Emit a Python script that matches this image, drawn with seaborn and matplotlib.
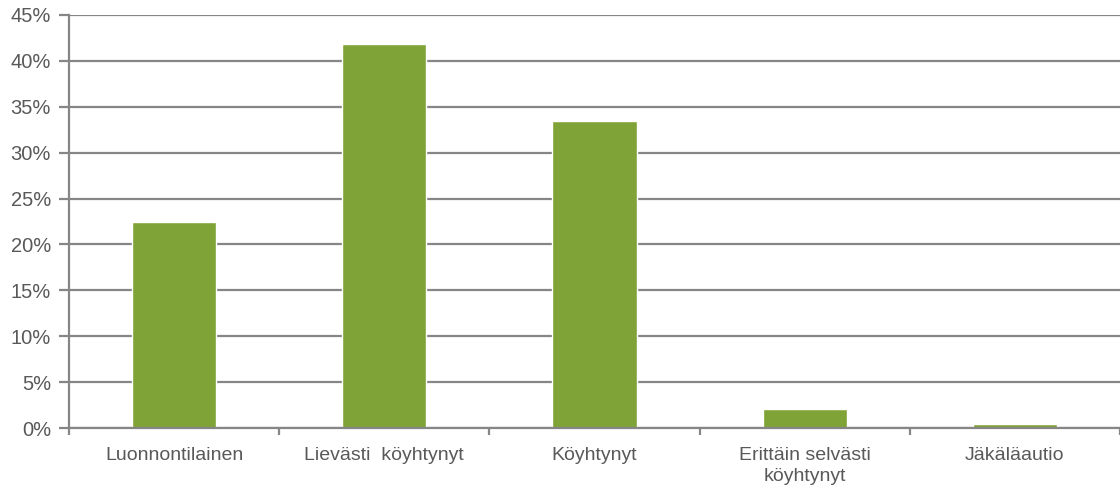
import matplotlib
matplotlib.use("Agg")
import matplotlib.pyplot as plt
import seaborn as sns
import pandas as pd
from matplotlib.ticker import FixedLocator, FuncFormatter

# Share of sites by condition class (%)
categories = ["Luonnontilainen", "Lievästi  köyhtynyt", "Köyhtynyt",
              "Erittäin selvästi\nköyhtynyt", "Jäkäläautio"]
shares = [22.4, 41.8, 33.5, 2.1, 0.4]
y_ticks = [0, 5, 10, 15, 20, 25, 30, 35, 40, 45]

sns.set_theme(style="white")
plt.rcParams["font.family"] = ["Liberation Sans", "DejaVu Sans"]

grey = "#868686"
text_grey = "#595959"
bar_color = "#80a337"

df = pd.DataFrame({"luokka": categories, "osuus": shares})

fig = plt.figure(figsize=(11.2, 4.9), dpi=100)
ax = fig.add_axes([0.0616, 0.1265, 0.9384, 0.8429])

sns.barplot(data=df, x="luokka", y="osuus", order=categories,
            color=bar_color, saturation=1, width=0.4, ax=ax)

ax.set_ylim(0, 45)
ax.set_xlim(-0.5, len(categories) - 0.5)
ax.yaxis.set_major_locator(FixedLocator(y_ticks))
ax.yaxis.set_major_formatter(FuncFormatter(lambda v, _: f"{v:.0f}%"))
ax.yaxis.grid(True, color=grey, linewidth=1.6)
ax.set_axisbelow(True)

for side in ["top", "right"]:
    ax.spines[side].set_visible(False)
ax.spines["left"].set_color(grey)
ax.spines["left"].set_linewidth(1.6)
ax.spines["bottom"].set_color(grey)
ax.spines["bottom"].set_linewidth(1.6)

# Category boundaries get the tick marks; labels sit at the bar centres
ax.set_xticks(range(len(categories)))
ax.set_xticklabels(categories, linespacing=1.25)
ax.set_xticks([i - 0.5 for i in range(len(categories) + 1)], minor=True)
ax.tick_params(axis="x", which="major", length=0, pad=14,
               labelsize=14, labelcolor=text_grey)
ax.tick_params(axis="x", which="minor", length=5, width=1.6,
               color=grey, direction="out", bottom=True)
ax.tick_params(axis="y", which="major", length=7, width=1.6, color=grey,
               direction="out", left=True, labelsize=14.5,
               labelcolor=text_grey, pad=6)

ax.set_xlabel("")
ax.set_ylabel("")

fig.savefig("out.png", dpi=100)
